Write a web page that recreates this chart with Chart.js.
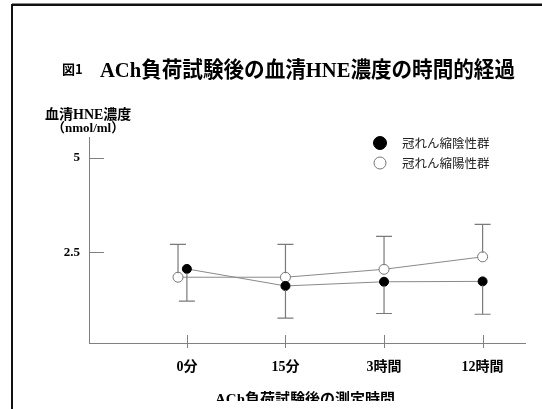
<!DOCTYPE html>
<html>
<head>
<meta charset="utf-8">
<script src="https://cdn.jsdelivr.net/npm/chart.js@4/dist/chart.umd.min.js"></script>
<style>
  html, body { margin: 0; padding: 0; background: #fff; }
  #wrap { width: 542px; height: 409px; position: relative; }
</style>
</head>
<body>
<div id="wrap"><canvas id="hneChart" width="542" height="409"></canvas></div>
<script>
// time points after ACh provocation
const timeLabels = ["0分", "15分", "3時間", "12時間"];
const yTicks = [2.5, 5];

// spasm negative group (filled) - means and lower error ends
const negMean = [2.06, 1.61, 1.72, 1.73];
const negLow = [1.21, 0.76, 0.88, 0.86];

// spasm positive group (open) - means and upper error ends
const posMean = [1.84, 1.84, 2.05, 2.38];
const posHigh = [2.71, 2.71, 2.92, 3.24];

const seriesNames = ["冠れん縮陰性群", "冠れん縮陽性群"];

const JP_SERIF = '"Liberation Serif", "Noto Sans CJK JP", serif';
const JP_SANS = '"Noto Sans CJK JP", sans-serif';

// open marker at 0分 sits a little left of the tick in the original
const OPEN_FIRST_SHIFT = -0.09;

function toPoints(values, shiftFirst) {
  return values.map((v, i) => ({ x: i + (i === 0 ? shiftFirst : 0), y: v }));
}

const errorBarsPlugin = {
  id: "errorBars",
  afterDatasetsDraw(chart) {
    const { ctx, scales: { x, y } } = chart;
    const cap = 8;
    ctx.save();
    ctx.strokeStyle = "#7a7a7a";
    ctx.lineWidth = 1.2;

    posHigh.forEach((v, i) => {
      const px = x.getPixelForValue(i + (i === 0 ? OPEN_FIRST_SHIFT : 0));
      const top = y.getPixelForValue(v);
      const mid = y.getPixelForValue(posMean[i]) - 4;
      ctx.beginPath();
      ctx.moveTo(px, mid);
      ctx.lineTo(px, top);
      ctx.moveTo(px - cap, top);
      ctx.lineTo(px + cap, top);
      ctx.stroke();
    });

    negLow.forEach((v, i) => {
      const px = x.getPixelForValue(i);
      const bottom = y.getPixelForValue(v);
      const mid = y.getPixelForValue(negMean[i]) + 4;
      ctx.beginPath();
      ctx.moveTo(px, mid);
      ctx.lineTo(px, bottom);
      ctx.moveTo(px - cap, bottom);
      ctx.lineTo(px + cap, bottom);
      ctx.stroke();
    });
    ctx.restore();
  }
};

const decorPlugin = {
  id: "decor",
  beforeDraw(chart) {
    const { ctx } = chart;
    ctx.save();
    ctx.fillStyle = "#fff";
    ctx.fillRect(0, 0, chart.width, chart.height);

    // slide frame
    ctx.strokeStyle = "#888";
    ctx.lineWidth = 1;
    ctx.beginPath();
    ctx.moveTo(12, 3.5);
    ctx.lineTo(542, 3.5);
    ctx.stroke();
    ctx.strokeStyle = "#111";
    ctx.lineWidth = 2;
    ctx.beginPath();
    ctx.moveTo(12, 409);
    ctx.lineTo(12, 5);
    ctx.lineTo(542, 5);
    ctx.stroke();
    ctx.restore();
  },
  afterDraw(chart) {
    const { ctx, scales: { x, y } } = chart;
    ctx.save();

    // inner tick marks
    ctx.strokeStyle = "#808080";
    ctx.lineWidth = 1;
    yTicks.forEach(v => {
      const py = Math.round(y.getPixelForValue(v)) + 0.5;
      ctx.beginPath();
      ctx.moveTo(x.left, py);
      ctx.lineTo(x.left + 15, py);
      ctx.stroke();
    });
    timeLabels.forEach((_, i) => {
      const px = Math.round(x.getPixelForValue(i)) + 0.5;
      ctx.beginPath();
      ctx.moveTo(px, y.bottom - 8);
      ctx.lineTo(px, y.bottom + 5);
      ctx.stroke();
    });

    // title
    ctx.fillStyle = "#000";
    ctx.textBaseline = "middle";
    ctx.textAlign = "left";
    ctx.font = "bold 13px " + JP_SANS;
    ctx.fillText("図1", 62, 69);
    ctx.font = "bold 22px " + JP_SERIF;
    ctx.fillText("ACh負荷試験後の血清HNE濃度の時間的経過", 100, 71, 415);

    // y axis title
    ctx.font = "bold 14px " + JP_SERIF;
    ctx.fillText("血清HNE濃度", 45, 115);
    ctx.font = "bold 13px " + JP_SERIF;
    ctx.fillText("（nmol/ml）", 52, 129);

    // legend
    const ds = chart.data.datasets;
    const legendY = [143, 163];
    ds.forEach((d, i) => {
      ctx.beginPath();
      ctx.arc(380, legendY[i], i === 0 ? 6.5 : 6, 0, Math.PI * 2);
      ctx.fillStyle = d.pointBackgroundColor;
      ctx.fill();
      ctx.strokeStyle = i === 0 ? "#000" : "#777";
      ctx.lineWidth = 1;
      ctx.stroke();
      ctx.fillStyle = "#222";
      ctx.font = "12.5px " + JP_SANS;
      ctx.fillText(d.label, 402, legendY[i]);
    });

    // x axis title, cut by the bottom edge like the original slide
    ctx.beginPath();
    ctx.rect(0, 0, chart.width, 401);
    ctx.clip();
    ctx.fillStyle = "#000";
    ctx.textAlign = "center";
    ctx.font = "bold 15px " + JP_SERIF;
    ctx.fillText("ACh負荷試験後の測定時間", 305, 400);
    ctx.restore();
  }
};

new Chart(document.getElementById("hneChart"), {
  type: "line",
  data: {
    datasets: [
      {
        label: seriesNames[0],
        data: toPoints(negMean, 0),
        borderColor: "#8a8a8a",
        borderWidth: 1,
        pointBackgroundColor: "#000",
        pointBorderColor: "#000",
        pointRadius: 4.5,
        pointBorderWidth: 1,
        tension: 0
      },
      {
        label: seriesNames[1],
        data: toPoints(posMean, OPEN_FIRST_SHIFT),
        borderColor: "#8a8a8a",
        borderWidth: 1,
        pointBackgroundColor: "#fff",
        pointBorderColor: "#777",
        pointRadius: 5,
        pointBorderWidth: 1,
        tension: 0
      }
    ]
  },
  options: {
    responsive: false,
    animation: false,
    events: [],
    layout: {
      padding: { top: 137, left: 0, right: 17, bottom: 0 }
    },
    plugins: {
      legend: { display: false },
      tooltip: { enabled: false }
    },
    scales: {
      x: {
        type: "linear",
        min: -0.993,
        max: 3.43,
        afterBuildTicks: scale => {
          scale.ticks = timeLabels.map((_, i) => ({ value: i }));
        },
        afterFit: scale => {
          scale.height = 66;
        },
        grid: { display: false, drawTicks: false },
        border: { display: true, color: "#808080", width: 1 },
        ticks: {
          padding: 16,
          color: "#000",
          font: { family: JP_SERIF, size: 14, weight: "bold" },
          callback: value => timeLabels[value] ?? ""
        }
      },
      y: {
        type: "linear",
        min: 0.1,
        max: 5.55,
        afterBuildTicks: scale => {
          scale.ticks = yTicks.map(v => ({ value: v }));
        },
        afterFit: scale => {
          scale.width = 89;
        },
        grid: { display: false, drawTicks: false },
        border: { display: true, color: "#808080", width: 1 },
        ticks: {
          padding: 9,
          color: "#000",
          font: { family: JP_SERIF, size: 13, weight: "bold" }
        }
      }
    }
  },
  plugins: [decorPlugin, errorBarsPlugin]
});
</script>
</body>
</html>
